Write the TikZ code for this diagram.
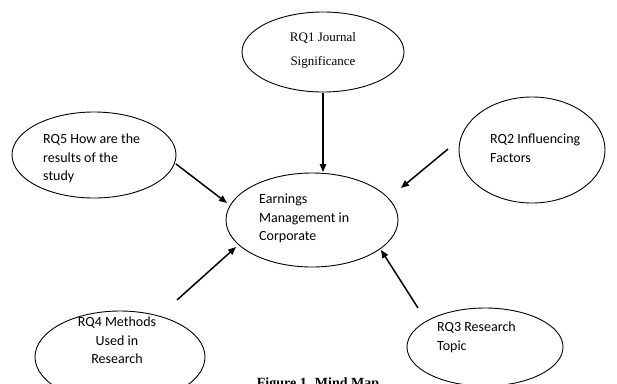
\documentclass[tikz,border=0pt]{standalone}
\usepackage{fontspec}
\setmainfont{Liberation Serif}
\newfontfamily\carlito{Carlito}
\usetikzlibrary{shapes.geometric,arrows.meta}
\begin{document}
\begin{tikzpicture}[x=1pt,y=-1pt,
  oval/.style={draw, ellipse, line width=0.9pt, inner sep=0pt},
  caltext/.style={font=\carlito\fontsize{14}{18.5}\selectfont, inner sep=0pt},
  timestext/.style={font=\fontsize{13}{24}\selectfont, inner sep=0pt, align=center},
  arr/.style={-{Triangle[length=8pt,width=6.5pt]}, line width=1.5pt}]
\clip (0,0) rectangle (617,383);
\fill[white] (0,0) rectangle (617,383);
% ellipses
\node[oval, minimum width=162pt, minimum height=80pt] (rq1) at (323,52) {};
\node[oval, minimum width=164pt, minimum height=86pt] (rq5) at (94,155) {};
\node[oval, minimum width=146pt, minimum height=106pt] (rq2) at (532,150) {};
\node[oval, minimum width=172pt, minimum height=94pt] (core) at (312,220) {};
\node[oval, minimum width=170pt, minimum height=92pt] (rq4) at (120,357) {};
\node[oval, minimum width=156pt, minimum height=78pt] (rq3) at (485,347) {};
% texts
\node[timestext, anchor=north] (t1) at (323,32) {RQ1 Journal\\Significance};
\node[caltext, anchor=north west, align=left] (t5) at (43,134) {RQ5 How are the\\results of the\\study};
\node[caltext, anchor=north west, align=left] (t2) at (490,134) {RQ2 Influencing\\Factors};
\node[caltext, anchor=north west, align=left] (tc) at (259,194) {Earnings\\Management in\\Corporate};
\node[caltext, anchor=north, align=center] (t4) at (117,317) {RQ4 Methods\\Used in\\Research};
\node[caltext, anchor=north west, align=left] (t3) at (437,322) {RQ3 Research\\Topic};
\node[font=\bfseries\fontsize{14}{16}\selectfont, inner sep=0pt, anchor=base] (cap) at (318,387) {Figure 1. Mind Map};
% arrow end points
\coordinate (s1) at (323,93);  \coordinate (e1) at (323,172);
\coordinate (s5) at (176,164); \coordinate (e5) at (227,203);
\coordinate (s2) at (448,149); \coordinate (e2) at (401,188);
\coordinate (s4) at (177,300); \coordinate (e4) at (236,247);
\coordinate (s3) at (418,308); \coordinate (e3) at (381,250);
\draw[arr] (s1) -- (e1);
\draw[arr] (s5) -- (e5);
\draw[arr] (s2) -- (e2);
\draw[arr] (s4) -- (e4);
\draw[arr] (s3) -- (e3);
\end{tikzpicture}
\end{document}
